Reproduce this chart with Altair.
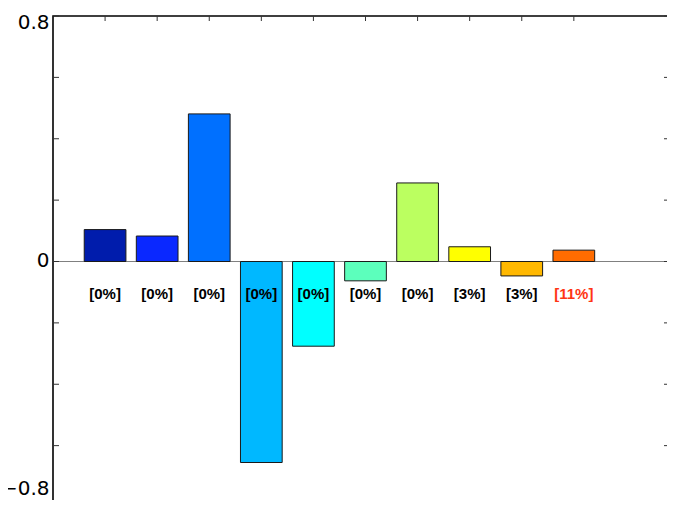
import altair as alt
import pandas as pd

# ---- data ----
positions = [1, 2, 3, 4, 5, 6, 7, 8, 9, 10]
values = [0.104, 0.083, 0.481, -0.655, -0.276, -0.063, 0.256, 0.048, -0.047, 0.037]
bar_colors = ["#001CAC", "#0A28FF", "#0070FF", "#00B8FF", "#00FFFF",
              "#5CFFBC", "#BBFF60", "#FFFF00", "#FFB800", "#FF6C00"]
labels = ["[0%]", "[0%]", "[0%]", "[0%]", "[0%]", "[0%]", "[0%]", "[3%]", "[3%]", "[11%]"]
label_colors = ["#000000"] * 9 + ["#FF3414"]
y_tick_values = [-0.8, -0.6, -0.4, -0.2, 0.0, 0.2, 0.4, 0.6, 0.8]
y_label_values = [-0.8, 0.0, 0.8]
x_domain = [0, 12]
y_domain = [-0.8, 0.8]

W, H = 625, 491
PAD_L, PAD_T, PAD_R, PAD_B = 45, 8, -11, -7
VIS_W = W + PAD_R  # visible part of the plot area

df = pd.DataFrame({"pos": positions, "val": values, "bc": bar_colors,
                   "lab": labels, "lc": label_colors})
yt = pd.DataFrame({"t": y_tick_values})

xs = alt.Scale(domain=x_domain, nice=False, zero=False, padding=0)
ys = alt.Scale(domain=y_domain, nice=False, zero=False, padding=0)

font = "Liberation Sans"

base = alt.Chart(df)

label_offset = {
    "condition": [
        {"test": "datum.value > 0.7", "value": 6},
        {"test": "datum.value < -0.7", "value": -19},
    ],
    "value": -1,
}

bars = base.mark_bar(size=41.7, stroke="#1a1a1a", strokeWidth=1).encode(
    x=alt.X("pos:Q", scale=xs, axis=None),
    y=alt.Y("val:Q", scale=ys,
            axis=alt.Axis(values=y_label_values, ticks=False, domain=False, grid=False,
                          labelFontSize=20, labelFont="DejaVu Sans", labelColor="black",
                          labelPadding=4, labelFlush=False, labelBaseline="middle",
                          labelOffset=label_offset, labelBound=False,
                          title=None, format="~g")),
    y2=alt.datum(0),
    color=alt.Color("bc:N", scale=None),
)

zero_line = base.mark_rule(color="#808080", strokeWidth=1).encode(
    y=alt.Y("z:Q", scale=ys),
).transform_calculate(z="0").transform_filter("datum.pos == 1")

texts = base.mark_text(font=font, fontWeight="bold", fontSize=15, baseline="middle",
                       align="center", dy=32).encode(
    x=alt.X("pos:Q", scale=xs),
    y=alt.Y("z:Q", scale=ys),
    text="lab:N",
    color=alt.Color("lc:N", scale=None),
).transform_calculate(z="0")

tick_color = "#333333"
top_ticks = base.mark_rule(color=tick_color, strokeWidth=1).encode(
    x=alt.X("pos:Q", scale=xs), y=alt.value(0), y2=alt.value(5))
bottom_ticks = base.mark_rule(color=tick_color, strokeWidth=1).encode(
    x=alt.X("pos:Q", scale=xs), y=alt.value(H - 5), y2=alt.value(H))
left_ticks = alt.Chart(yt).mark_rule(color=tick_color, strokeWidth=1).encode(
    y=alt.Y("t:Q", scale=ys), x=alt.value(0), x2=alt.value(6))
right_ticks = alt.Chart(yt).mark_rule(color=tick_color, strokeWidth=1).encode(
    y=alt.Y("t:Q", scale=ys), x=alt.value(VIS_W - 3), x2=alt.value(VIS_W))

chart = alt.layer(
    zero_line, bars, texts, top_ticks, bottom_ticks, left_ticks, right_ticks
).properties(
    width=W, height=H,
    autosize=alt.AutoSizeParams(type="none"),
    padding={"left": PAD_L, "top": PAD_T, "right": PAD_R, "bottom": PAD_B},
    background="white",
).configure_view(stroke="black", strokeWidth=1.6)

chart.save("out.html", embed_options={"renderer": "svg", "actions": False})
